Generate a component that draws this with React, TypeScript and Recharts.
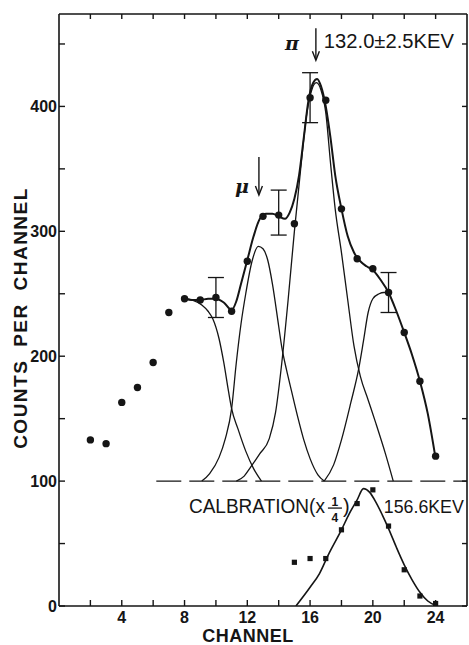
import React from 'react';
import {
  ComposedChart,
  Line,
  Scatter,
  XAxis,
  YAxis,
  ErrorBar,
  ReferenceLine,
  ReferenceDot,
} from 'recharts';

// measured spectrum, counts per channel
const channels = [2, 3, 4, 5, 6, 7, 8, 9, 10, 11, 12, 13, 14, 15, 16, 17, 18, 19, 20, 21, 22, 23, 24];
const counts = [133, 130, 163, 175, 195, 235, 246, 245, 247, 236, 276, 312, 313, 306, 407, 405, 318, 278, 270, 251, 219, 180, 120];

// points carrying a statistical error bar
const errChannels = [10, 14, 16, 21];
const errCounts = [247, 315, 407, 251];
const errSizes = [16, 18, 20, 16];

// calibration line, drawn at 1/4 scale
const calChannels = [15, 16, 17, 18, 19, 20, 21, 22, 23, 24];
const calCounts = [35, 38, 38, 61, 82, 93, 64, 29, 8, 2];

// hand-drawn fit curves as [channel, counts]
const totalFit: [number, number][] = [
  [8, 246], [8.5, 245], [9, 245], [9.5, 246], [10, 246], [10.5, 243], [11, 237], [11.3, 244],
  [11.6, 258], [12, 277], [12.4, 296], [12.8, 310], [13.2, 314], [13.6, 314], [14, 312],
  [14.4, 310], [14.7, 315], [15, 326], [15.3, 345], [15.6, 375], [15.9, 405], [16.2, 419],
  [16.45, 422], [16.7, 416], [17, 400], [17.3, 375], [17.6, 345], [18, 318], [18.4, 296],
  [18.8, 283], [19.2, 276], [19.6, 272], [20, 269], [20.5, 261], [21, 251], [21.5, 236],
  [22, 219], [22.5, 201], [23, 180], [23.5, 154], [24, 118],
];
const lowFit: [number, number][] = [
  [8, 246], [8.5, 245], [9.1, 241], [9.5, 236], [9.8, 230], [10.2, 214], [10.5, 195],
  [10.8, 172], [11, 158], [11.4, 142], [11.9, 124], [12.4, 110], [12.9, 100],
];
const muFit: [number, number][] = [
  [9.1, 100], [9.6, 106], [10.2, 119], [10.6, 134], [11, 158], [11.3, 195], [11.6, 226],
  [11.9, 250], [12.3, 276], [12.7, 288], [13, 286], [13.3, 277], [13.6, 258], [14, 224],
  [14.2, 207], [14.5, 189], [14.8, 173], [15.2, 152], [15.6, 133], [16, 118], [16.5, 105],
  [16.9, 100],
];
const piFit: [number, number][] = [
  [11.3, 100], [11.8, 104], [12.2, 111], [12.8, 122], [13.4, 134], [13.8, 155], [14.2, 195],
  [14.6, 245], [15, 300], [15.4, 350], [15.8, 395], [16.1, 413], [16.4, 419], [16.7, 413],
  [17, 395], [17.3, 355], [17.6, 318], [18, 283], [18.4, 245], [18.8, 208], [19.2, 184],
  [19.7, 165], [20.2, 146], [20.8, 122], [21.3, 100],
];
const highFit: [number, number][] = [
  [16.9, 100], [17.5, 113], [18, 133], [18.6, 163], [19.1, 190], [19.4, 212], [19.7, 235],
  [20, 246], [20.4, 250], [20.7, 251], [21, 251],
];
const calFit: [number, number][] = [
  [15.1, 0], [16, 15], [16.6, 26], [17.2, 42], [18, 61], [18.5, 74], [19, 85], [19.4, 94],
  [19.8, 91], [20.2, 83], [20.6, 73], [21, 62], [21.5, 47], [22, 33], [22.5, 21], [23, 11],
  [23.5, 4], [24.1, 0],
];

const xTicks = [2, 4, 6, 8, 10, 12, 14, 16, 18, 20, 22, 24];
const yTicks = [0, 50, 100, 150, 200, 250, 300, 350, 400, 450];

const ink = '#151515';
const font = '"Liberation Sans", Arial, sans-serif';

const toPts = (c: [number, number][]) => c.map(([x, y]) => ({ x, y }));

const spectrum = channels.map((x, i) => ({ x, y: counts[i] }));
const errPts = errChannels.map((x, i) => ({ x, y: errCounts[i], err: errSizes[i] }));
const calPts = calChannels.map((x, i) => ({ x, y: calCounts[i] }));

const Dot = (p: any) => <circle cx={p.cx} cy={p.cy} r={3.7} fill={ink} />;
const Square = (p: any) => <rect x={p.cx - 2.6} y={p.cy - 2.6} width={5.2} height={5.2} fill={ink} />;
const Nothing = () => <g />;

const arrow = (len: number) => (p: any) => (
  <g stroke={ink} strokeWidth={1.4} fill="none">
    <line x1={p.cx} y1={p.cy - len} x2={p.cx} y2={p.cy - 1} />
    <path d={`M${p.cx - 3.5},${p.cy - 9} L${p.cx},${p.cy} L${p.cx + 3.5},${p.cy - 9}`} />
  </g>
);

const label = (text: string, size: number, opts: any = {}) => (p: any) => (
  <text
    x={p.cx}
    y={p.cy}
    fill={ink}
    fontFamily={opts.family || font}
    fontSize={size}
    fontWeight={opts.weight || 'normal'}
    fontStyle={opts.style || 'normal'}
    textAnchor={opts.anchor || 'start'}
    textLength={opts.len}
    lengthAdjust="spacingAndGlyphs"
  >
    {text}
  </text>
);

const CalLabel = (p: any) => (
  <g fill={ink} fontFamily={font}>
    <text x={p.cx} y={p.cy} fontSize={20} textLength={136} lengthAdjust="spacingAndGlyphs">
      CALBRATION(x
    </text>
    <text x={p.cx + 146} y={p.cy - 7} fontSize={12} fontWeight="bold" textAnchor="middle">1</text>
    <line x1={p.cx + 139} x2={p.cx + 153} y1={p.cy - 5} y2={p.cy - 5} stroke={ink} strokeWidth={1.3} />
    <text x={p.cx + 146} y={p.cy + 9} fontSize={12} fontWeight="bold" textAnchor="middle">4</text>
    <text x={p.cx + 154} y={p.cy} fontSize={20}>)</text>
  </g>
);

const XTitle = (p: any) => {
  const vb = p.viewBox;
  return (
    <text x={vb.x + vb.width / 2 - 15} y={vb.y + 36} textAnchor="middle" fill={ink}
      fontFamily={font} fontSize={18} fontWeight="bold" letterSpacing={0.5}>
      CHANNEL
    </text>
  );
};

const YTitle = (p: any) => {
  const vb = p.viewBox;
  const cx = 27;
  const cy = vb.y + vb.height / 2 + 8;
  return (
    <text x={cx} y={cy} transform={`rotate(-90, ${cx}, ${cy})`} textAnchor="middle" fill={ink}
      fontFamily={font} fontSize={19} fontWeight="bold" letterSpacing={1.5} wordSpacing={6}>
      COUNTS PER CHANNEL
    </text>
  );
};

const tickStyle = { fontSize: 16, fontWeight: 'bold', fill: ink, fontFamily: font };
const frameLine = { stroke: ink, strokeWidth: 1.6 };
const frameTick = { stroke: ink, strokeWidth: 1.4 };

export default function App() {
  return (
    <div style={{ position: 'absolute', left: 0, top: 0, width: 469, height: 645, background: '#fff' }}>
      <ComposedChart width={469} height={645} margin={{ top: 13, right: 1, bottom: 0, left: 0 }}>
        <XAxis
          dataKey="x"
          type="number"
          domain={[0, 26]}
          allowDataOverflow
          ticks={xTicks}
          tickFormatter={(v: number) => (v % 4 === 0 ? String(v) : '')}
          height={39}
          tickSize={-6}
          tickMargin={12}
          tick={tickStyle}
          axisLine={frameLine}
          tickLine={frameTick}
          label={{ content: XTitle }}
        />
        <XAxis
          xAxisId="top"
          orientation="top"
          dataKey="x"
          type="number"
          domain={[0, 26]}
          allowDataOverflow
          ticks={xTicks}
          tickFormatter={() => ''}
          height={1}
          tickSize={-5}
          axisLine={frameLine}
          tickLine={frameTick}
        />
        <YAxis
          dataKey="y"
          type="number"
          domain={[0, 474]}
          allowDataOverflow
          ticks={yTicks}
          tickFormatter={(v: number) => (v % 100 === 0 ? String(v) : '')}
          width={59}
          tickSize={-6}
          tickMargin={8}
          tick={tickStyle}
          axisLine={frameLine}
          tickLine={frameTick}
          label={{ content: YTitle }}
        />
        <YAxis
          yAxisId="right"
          orientation="right"
          dataKey="y"
          type="number"
          domain={[0, 474]}
          allowDataOverflow
          ticks={yTicks}
          tickFormatter={() => ''}
          width={1}
          tickSize={-5}
          axisLine={frameLine}
          tickLine={frameTick}
        />

        {/* invisible copy of the spectrum so the top and right frame axes have a series */}
        <Scatter xAxisId="top" yAxisId="right" data={spectrum} dataKey="y" shape={Nothing} isAnimationActive={false} />

        <ReferenceLine
          segment={[{ x: 6.2, y: 100 }, { x: 26, y: 100 }]}
          stroke={ink}
          strokeWidth={1.3}
          strokeDasharray="25 8"
        />

        <Line data={toPts(lowFit)} dataKey="y" type="monotone" stroke={ink} strokeWidth={1.3} dot={false} activeDot={false} isAnimationActive={false} />
        <Line data={toPts(muFit)} dataKey="y" type="monotone" stroke={ink} strokeWidth={1.3} dot={false} activeDot={false} isAnimationActive={false} />
        <Line data={toPts(piFit)} dataKey="y" type="monotone" stroke={ink} strokeWidth={1.3} dot={false} activeDot={false} isAnimationActive={false} />
        <Line data={toPts(highFit)} dataKey="y" type="monotone" stroke={ink} strokeWidth={1.3} dot={false} activeDot={false} isAnimationActive={false} />
        <Line data={toPts(totalFit)} dataKey="y" type="monotone" stroke={ink} strokeWidth={2} dot={false} activeDot={false} isAnimationActive={false} />
        <Line data={toPts(calFit)} dataKey="y" type="monotone" stroke={ink} strokeWidth={1.6} dot={false} activeDot={false} isAnimationActive={false} />

        <Scatter data={errPts} dataKey="y" shape={Nothing} isAnimationActive={false}>
          <ErrorBar dataKey="err" direction="y" width={8} stroke={ink} strokeWidth={1.3} />
        </Scatter>
        <Scatter data={spectrum} dataKey="y" shape={Dot} isAnimationActive={false} />
        <Scatter data={calPts} dataKey="y" shape={Square} isAnimationActive={false} />

        <ReferenceDot x={16.37} y={437} r={0} ifOverflow="visible" shape={arrow(32)} />
        <ReferenceDot x={12.74} y={329} r={0} ifOverflow="visible" shape={arrow(38)} />
        <ReferenceDot x={14.85} y={445} r={0} ifOverflow="visible"
          shape={label('π', 19, { weight: 'bold', style: 'italic', anchor: 'middle', family: '"DejaVu Serif", serif' })} />
        <ReferenceDot x={16.88} y={447} r={0} ifOverflow="visible" shape={label('132.0±2.5KEV', 20, { len: 130 })} />
        <ReferenceDot x={11.66} y={331} r={0} ifOverflow="visible"
          shape={label('μ', 19, { weight: 'bold', style: 'italic', anchor: 'middle', family: '"DejaVu Serif", serif' })} />
        <ReferenceDot x={8.28} y={74.4} r={0} ifOverflow="visible" shape={CalLabel} />
        <ReferenceDot x={20.7} y={74.4} r={0} ifOverflow="visible" shape={label('156.6KEV', 18.5, { len: 80 })} />
      </ComposedChart>
    </div>
  );
}
